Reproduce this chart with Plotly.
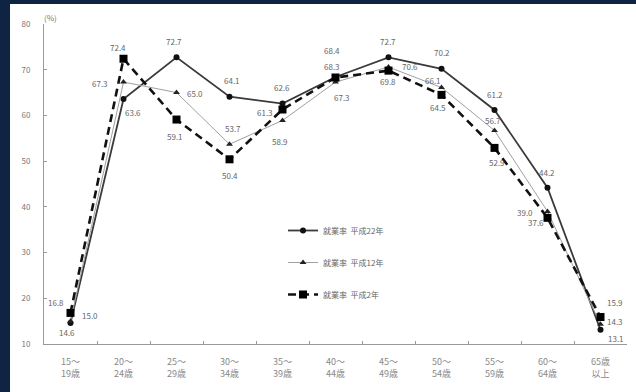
import plotly.graph_objects as go

categories = ["15～<br>19歳", "20～<br>24歳", "25～<br>29歳", "30～<br>34歳", "35～<br>39歳",
              "40～<br>44歳", "45～<br>49歳", "50～<br>54歳", "55～<br>59歳", "60～<br>64歳", "65歳<br>以上"]
h22 = [14.6, 63.6, 72.7, 64.1, 62.6, 68.4, 72.7, 70.2, 61.2, 44.2, 13.1]
h12 = [15.0, 67.3, 65.0, 53.7, 58.9, 67.3, 70.6, 66.1, 56.7, 39.0, 14.3]
h2 = [16.8, 72.4, 59.1, 50.4, 61.3, 68.3, 69.8, 64.5, 52.9, 37.6, 15.9]
names = ["就業率  平成22年", "就業率  平成12年", "就業率  平成2年"]
y_ticks = [10, 20, 30, 40, 50, 60, 70, 80]

# label offsets in pixels (dx, dy; dy positive = downward on screen)
off22 = [(-4, 10), (9, 14), (-3, -16), (2, -16), (-1, -16), (-4, -27), (-1, -16), (0, -16), (0, -15), (-1, -15), (15, 9)]
off12 = [(19, -6), (-24, 1), (18, 1), (3, -16), (-3, 21), (6, 15), (21, 0), (-9, -7), (-2, -10), (-23, 1), (14, -3)]
off2 = [(-15, -10), (-6, -11), (-2, 17), (0, 16), (-18, 3), (-4, -11), (-1, 11), (-4, 13), (2, 15), (-12, 5), (14, -15)]

FONT = "Noto Sans CJK JP, Noto Sans, sans-serif"
LBL = dict(size=8, color="#666", family=FONT)

fig = go.Figure()
fig.add_trace(go.Scatter(
    x=categories, y=h22, name=names[0], mode="lines+markers",
    line=dict(color="#3a3a3a", width=1.8), marker=dict(symbol="circle", size=6, color="#111"),
    legendgroup="a"))
fig.add_trace(go.Scatter(
    x=categories, y=h12, name=names[1], mode="lines+markers",
    line=dict(color="#a0a0a0", width=1), marker=dict(symbol="triangle-up", size=6, color="#222"),
    legendgroup="b"))
fig.add_trace(go.Scatter(
    x=categories, y=h2, name=names[2], mode="lines+markers",
    line=dict(color="#111", width=2.6, dash="8px,5px"), marker=dict(symbol="square", size=8, color="#000"),
    legendgroup="c"))

annotations = []
for vals, offs in ((h22, off22), (h12, off12), (h2, off2)):
    for cat, v, (dx, dy) in zip(categories, vals, offs):
        annotations.append(dict(x=cat, y=v, xref="x", yref="y", text=f"{v:.1f}", showarrow=False,
                                xshift=dx, yshift=-dy, font=LBL))
annotations.append(dict(text="(%)", xref="paper", yref="paper", x=0.0, y=1.0, xanchor="center",
                        yanchor="bottom", xshift=6, yshift=-1, showarrow=False,
                        font=dict(size=8, color="#777")))

fig.update_layout(
    width=636, height=392,
    margin=dict(l=44, r=9, t=24, b=48),
    paper_bgcolor="white", plot_bgcolor="white",
    font=dict(family=FONT, size=8, color="#777"),
    showlegend=True,
    legend=dict(x=0.41, y=0.40, xanchor="left", yanchor="top", bgcolor="rgba(0,0,0,0)",
                font=dict(size=8, color="#666", family=FONT), tracegroupgap=13,
                traceorder="grouped", itemwidth=30),
    xaxis=dict(type="category", range=[-0.5, 10.5], showline=True, linecolor="#999", linewidth=1,
               ticks="inside", ticklen=3, tickcolor="#999", tickson="boundaries",
               showgrid=False, zeroline=False, tickfont=dict(size=9, color="#888"),
               ticklabelstandoff=9),
    yaxis=dict(range=[10, 80], tickvals=y_ticks, showline=True, linecolor="#999", linewidth=1,
               ticks="inside", ticklen=3, tickcolor="#999", showgrid=False, zeroline=False,
               tickfont=dict(size=8, color="#777"), ticklabelstandoff=11),
    annotations=annotations,
    shapes=[
        dict(type="rect", xref="paper", yref="paper", x0=-0.08, x1=-0.0583, y0=-0.2, y1=1.1,
             fillcolor="#0f2342", line=dict(width=0), layer="above"),
        dict(type="rect", xref="paper", yref="paper", x0=-0.08, x1=1.05, y0=1.0625, y1=1.1,
             fillcolor="#0f2342", line=dict(width=0), layer="above"),
    ],
)

fig.write_html("out.html")
